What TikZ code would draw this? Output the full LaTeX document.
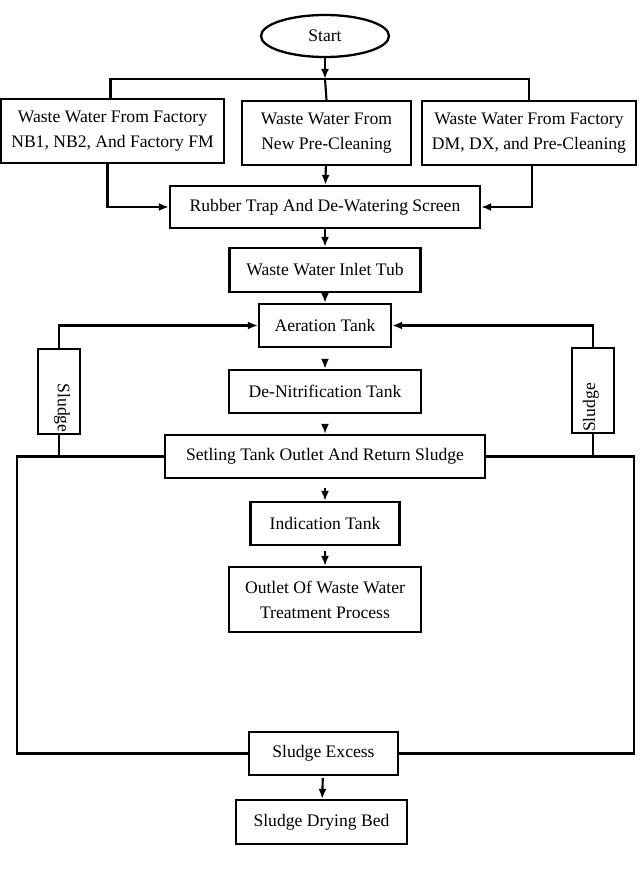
\documentclass[tikz,border=0pt]{standalone}
\usepackage{fontspec}
\setmainfont{Liberation Serif}
\usetikzlibrary{arrows.meta,shapes.geometric}
\begin{document}
\begin{tikzpicture}[x=1pt,y=-1pt,
  font=\fontsize{17.6}{25}\selectfont,
  every path/.style={line width=2.1pt},
  box/.style={draw,line width=2.3pt,rectangle,inner sep=0pt,align=center},
  arr/.style={-{Latex[length=10pt,width=8pt]}},
  lbl/.style={inner sep=0pt}]
\useasboundingbox (0,0) rectangle (643,883);
% nodes
\node[draw,line width=2.3pt,ellipse,minimum width=128,minimum height=42,inner sep=0pt] (start) at (325,36) {Start};
\node[box,minimum width=223,minimum height=64] (b1) at (112.5,131) {Waste Water From Factory\\NB1, NB2, And Factory FM};
\node[box,minimum width=169,minimum height=64] (b2) at (326.5,133) {Waste Water From\\New Pre-Cleaning};
\node[box,minimum width=214,minimum height=64] (b3) at (529,133) {Waste Water From Factory\\DM, DX, and Pre-Cleaning};
\node[box,minimum width=310,minimum height=42] (rub) at (325,207) {Rubber Trap And De-Watering Screen};
\node[box,minimum width=191,minimum height=44] (inlet) at (325,270) {Waste Water Inlet Tub};
\node[box,minimum width=132,minimum height=43] (aer) at (325,325.5) {Aeration Tank};
\node[box,minimum width=42,minimum height=85] (sl) at (59,391.5) {};
\node[box,minimum width=42,minimum height=85] (sr) at (593,390.5) {};
\node[lbl,rotate=-90] (slt) at (62,408) {Sludge};
\node[lbl,rotate=90] (srt) at (591,407.5) {Sludge};
\node[box,minimum width=192,minimum height=43] (den) at (325,391.5) {De-Nitrification Tank};
\node[box,minimum width=320,minimum height=43] (set) at (325,456.5) {Setling Tank Outlet And Return Sludge};
\node[box,minimum width=149,minimum height=43] (ind) at (325,523.5) {Indication Tank};
\node[box,minimum width=192,minimum height=65] (out) at (325,599.5) {Outlet Of Waste Water\\Treatment Process};
\node[box,minimum width=149,minimum height=43] (exc) at (323.5,753.5) {Sludge Excess};
\node[box,minimum width=171,minimum height=44] (dry) at (321.5,822) {Sludge Drying Bed};
% coordinates
\coordinate (j) at (325,79);
\coordinate (L) at (17,600);
\coordinate (R) at (634,600);
% connectors
\draw[arr] (start) -- (j);
\draw ([xshift=-2]b1.north) |- (j) -| (b3.north);
\draw (j) -- (b2.north);
\draw[arr] ([xshift=-5]b1.south) |- (rub.west);
\draw[arr] (b2) -- (rub);
\draw[arr] ([xshift=3]b3.south) |- (rub.east);
\draw[arr] (rub) -- (inlet);
\draw[arr] (inlet) -- (aer);
\draw[arr,shorten <=14pt] (aer) -- (den);
\draw[arr,shorten <=12pt] (den) -- (set);
\draw[arr,shorten <=9pt] (set) -- (ind);
\draw[arr,shorten <=5pt] (ind) -- (out);
\draw[arr] (sl.north) |- (aer.west);
\draw[arr] (sr.north) |- (aer.east);
\draw (sl.south) -- (sl.south |- set.west);
\draw (sr.south) -- (sr.south |- set.east);
\draw (set.west) -| (L) |- (exc.west);
\draw (set.east) -| (R) |- (exc.east);
\draw[arr,shorten <=2pt] (exc) -- (dry);
\end{tikzpicture}
\end{document}
